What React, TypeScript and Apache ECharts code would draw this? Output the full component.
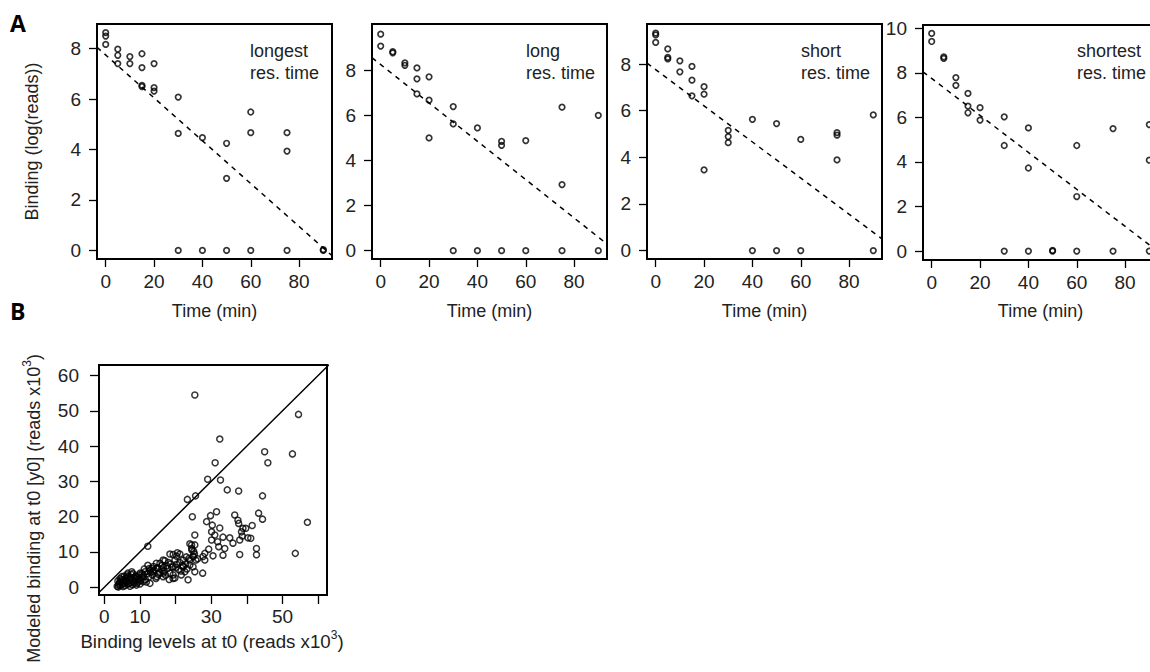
import React, { useEffect, useRef } from "react";
import * as echarts from "echarts";

// ---------- DATA ----------
const timeTicks = [0, 20, 40, 60, 80];
const panelNames = ["longest", "long", "short", "shortest"];

// [time (min), binding log(reads)]
const longestPts = [
  [0, 8.64], [0, 8.5], [0, 8.17], [5, 7.98], [5, 7.74], [5, 7.41], [10, 7.69], [10, 7.41],
  [15, 7.8], [15, 7.25], [15, 6.55], [15, 6.5], [20, 7.41], [20, 6.46], [20, 6.32],
  [30, 6.08], [30, 4.64], [30, 0], [40, 4.47], [40, 0], [50, 4.25], [50, 2.86], [50, 0],
  [60, 5.49], [60, 4.67], [60, 0], [75, 4.67], [75, 3.94], [75, 0], [90, 0], [90, 0.03],
];
const longPts = [
  [0, 9.6], [0, 9.07], [5, 8.82], [5, 8.77], [10, 8.33], [10, 8.22], [15, 8.1], [15, 7.62],
  [15, 6.95], [20, 7.71], [20, 6.67], [20, 5.0], [30, 6.39], [30, 5.62], [30, 0], [40, 5.44],
  [40, 0], [50, 4.85], [50, 4.67], [50, 0], [60, 4.88], [60, 0], [75, 6.36], [75, 2.93],
  [75, 0], [90, 6.0], [90, 0],
];
const shortPts = [
  [0, 9.33], [0, 9.25], [0, 8.93], [5, 8.65], [5, 8.29], [5, 8.22], [10, 8.14], [10, 7.67],
  [15, 7.9], [15, 7.31], [15, 6.64], [20, 7.03], [20, 6.71], [20, 3.46], [30, 5.16], [30, 4.89],
  [30, 4.63], [40, 5.63], [40, 0], [50, 5.45], [50, 0], [60, 4.77], [60, 0], [75, 5.06],
  [75, 4.95], [75, 3.89], [90, 5.82], [90, 0],
];
const shortestPts = [
  [0, 9.77], [0, 9.41], [5, 8.72], [5, 8.65], [10, 7.79], [10, 7.44], [15, 7.08], [15, 6.51],
  [15, 6.21], [20, 6.44], [20, 5.88], [30, 6.03], [30, 4.74], [30, 0], [40, 5.53], [40, 3.73],
  [40, 0], [50, 0], [50, 0.03], [60, 4.74], [60, 2.45], [60, 0], [75, 5.5], [75, 0],
  [90, 5.68], [90, 4.08], [90, 0],
];
const fitIntercepts = [7.75, 8.25, 7.76, 7.75];
const fitSlopes = [-0.085, -0.085, -0.0775, -0.083];
const yTicksA = [
  [0, 2, 4, 6, 8],
  [0, 2, 4, 6, 8],
  [0, 2, 4, 6, 8],
  [0, 2, 4, 6, 8, 10],
];

// Panel B: [binding at t0, modeled binding at t0] (reads x10^3)
const bXTicks = [0, 10, 20, 30, 40, 50, 60];
const bXLabels = [0, 10, 30, 50];
const bYTicks = [0, 10, 20, 30, 40, 50, 60];
const bindingPts = [
  [25.4, 54.5], [54.5, 49.0], [32.4, 42.0], [45.0, 38.4], [52.8, 37.8], [45.9, 35.3], [31.1, 35.3],
  [29.0, 30.6], [32.6, 30.4], [34.5, 27.6], [37.7, 27.3], [23.3, 24.9], [25.6, 25.9], [44.4, 25.9],
  [24.7, 20.0], [28.7, 18.6], [29.8, 20.3], [31.5, 21.4], [36.6, 20.5], [37.5, 19.0], [37.7, 18.1],
  [43.3, 21.0], [44.4, 19.3], [57.0, 18.4], [25.4, 14.8], [30.3, 17.6], [32.4, 16.8], [30.1, 15.7],
  [31.0, 14.8], [33.3, 14.2], [30.1, 13.4], [31.8, 12.9], [32.1, 11.5], [35.2, 14.0], [36.1, 12.5],
  [38.5, 15.7], [39.7, 16.7], [40.3, 14.0], [38.0, 13.4], [38.7, 14.5], [41.5, 17.5], [41.1, 13.9],
  [38.9, 16.7], [33.8, 11.0], [33.3, 9.1], [30.5, 8.9], [38.0, 9.3], [42.7, 11.0], [42.7, 9.2],
  [53.6, 9.6], [27.6, 4.0], [23.5, 2.1], [12.2, 11.6],
  [24.5, 12.0], [24.5, 11.0], [25.4, 12.0], [25.0, 8.7], [25.7, 7.7], [25.1, 10.1], [24.0, 7.7],
  [27.7, 8.7], [28.2, 7.7], [29.3, 10.8], [28.2, 9.6], [21.2, 9.4], [20.3, 8.8], [19.3, 9.3],
  [19.8, 7.7], [22.1, 7.7], [22.1, 5.8], [24.9, 5.8], [19.3, 5.8], [19.3, 3.5], [19.3, 2.5],
  [21.6, 3.5], [22.6, 4.4], [18.4, 9.4], [20.5, 9.8], [16.5, 7.7], [15.6, 6.8], [13.3, 5.4],
  [14.7, 5.4], [12.8, 4.7], [10.0, 4.0], [11.4, 4.4], [9.1, 3.0], [7.7, 4.4], [6.3, 3.5],
  [4.9, 3.0], [12.8, 1.1], [10.9, 1.6], [14.7, 3.0], [16.5, 3.0], [18.4, 4.0], [17.5, 6.1],
  [18.9, 5.7], [20.3, 6.5], [21.2, 7.0], [25.4, 4.4], [24.0, 6.3], [24.9, 8.7], [22.1, 5.9],
  [19.8, 2.6], [16.5, 4.0], [24.0, 12.3],
  [3.6, 0.3], [4.0, 0.6], [4.2, 1.0], [4.5, 0.4], [4.8, 1.5], [5.0, 0.8], [5.2, 2.0], [5.5, 1.2],
  [5.8, 0.5], [6.0, 2.5], [6.2, 1.6], [6.5, 0.9], [6.8, 3.0], [7.0, 2.2], [7.3, 1.3], [7.6, 3.6],
  [7.9, 0.7], [8.2, 2.6], [8.5, 1.8], [8.8, 3.2], [9.2, 1.1], [9.5, 2.3], [9.8, 3.5], [10.2, 1.9],
  [10.5, 2.8], [11.0, 3.3], [11.5, 2.2], [12.0, 3.8], [12.5, 2.9], [13.0, 4.2], [13.5, 3.5],
  [14.0, 4.8], [14.5, 2.5], [15.0, 5.5], [15.5, 4.1], [16.0, 5.0], [16.8, 4.6], [17.2, 3.4],
  [17.8, 5.3], [18.2, 2.2], [20.8, 5.0], [21.5, 4.6], [22.8, 6.6], [23.2, 5.2], [3.8, 1.8],
  [4.4, 2.5], [5.6, 3.2], [6.6, 4.0], [7.2, 0.3], [8.0, 3.9], [9.0, 0.6], [10.0, 0.9], [11.2, 5.2],
  [12.2, 6.2], [13.8, 5.9], [14.6, 6.8], [16.2, 6.2], [17.0, 7.5], [18.0, 7.0], [20.0, 5.6],
  [3.9, 0.1], [4.3, 1.4], [4.7, 2.1], [5.3, 0.2], [5.9, 1.9], [6.4, 2.9], [6.9, 1.0], [7.4, 2.7],
  [8.4, 1.2], [8.9, 2.4], [9.6, 1.6], [10.6, 3.9], [11.8, 1.5], [12.6, 5.3], [13.6, 4.5],
  [15.2, 3.6], [16.6, 5.6], [18.6, 6.6], [21.9, 6.2], [23.8, 8.2], [25.3, 9.4], [24.6, 10.5],
  [26.2, 8.1], [23.0, 8.6],
];

// ---------- LAYOUT ----------
const FONT = "'Liberation Sans', Arial, Helvetica, sans-serif";
const TXT = "#222";

const panelsA = [
  { left: 97, top: 24, yMin: -0.34, yMax: 8.98, labelX: 250, pts: longestPts },
  { left: 372, top: 24, yMin: -0.37, yMax: 10.05, labelX: 526, pts: longPts },
  { left: 647, top: 24, yMin: -0.36, yMax: 9.72, labelX: 801, pts: shortPts },
  { left: 923, top: 25, yMin: -0.4, yMax: 10.15, labelX: 1077, pts: shortestPts },
];
const A_W = 235;
const A_H = 235;
const X_MIN = -3.6;
const X_MAX = 93.6;
const B_GRID = { left: 99, top: 365, width: 228, height: 230 };
const B_X = [-1.5, 62.5];
const B_Y = [-2.2, 63.0];

function axisBase(gridIndex: number, min: number, max: number, ticks: number[], labels: number[], margin: number, tickLen: number, fontSize: number) {
  return {
    type: "value",
    gridIndex,
    min,
    max,
    axisLine: { show: false, onZero: false },
    splitLine: { show: false },
    axisTick: { show: true, inside: false, length: tickLen, customValues: ticks, lineStyle: { color: "#000", width: 1.3 } },
    axisLabel: { show: true, customValues: labels, margin, color: TXT, fontSize, fontFamily: FONT },
  };
}

export default function App() {
  const ref = useRef<HTMLDivElement>(null);
  useEffect(() => {
    if (!ref.current) return;
    const chart = echarts.init(ref.current, undefined, { renderer: "svg" });

    const grids: any[] = [];
    const xAxes: any[] = [];
    const yAxes: any[] = [];
    const series: any[] = [];
    const graphics: any[] = [];

    panelsA.forEach((p, i) => {
      grids.push({ left: p.left, top: p.top, width: A_W, height: A_H, show: true, borderColor: "#000", borderWidth: 2, backgroundColor: "transparent", containLabel: false });
      xAxes.push(axisBase(i, X_MIN, X_MAX, timeTicks, timeTicks, 13, 8, 19));
      yAxes.push(axisBase(i, p.yMin, p.yMax, yTicksA[i], yTicksA[i], 16, 8, 19));
      series.push({
        type: "scatter",
        xAxisIndex: i,
        yAxisIndex: i,
        data: p.pts,
        symbol: "circle",
        symbolSize: 5.5,
        itemStyle: { color: "rgba(0,0,0,0)", borderColor: "#000", borderWidth: 1.7 },
        silent: true,
      });
      const a = fitIntercepts[i];
      const b = fitSlopes[i];
      series.push({
        type: "line",
        xAxisIndex: i,
        yAxisIndex: i,
        data: [[X_MIN, a + b * X_MIN], [X_MAX, a + b * X_MAX]],
        symbol: "none",
        clip: true,
        lineStyle: { color: "#000", width: 1.5, type: [5, 5] },
        silent: true,
      });
      graphics.push({
        type: "text",
        x: p.left + A_W / 2,
        y: 311,
        style: { text: "Time (min)", fontSize: 18, fontFamily: FONT, fill: TXT, align: "center", verticalAlign: "middle" },
      });
      graphics.push({
        type: "text",
        x: p.labelX,
        y: 40,
        style: { text: panelNames[i] + "\nres. time", fontSize: 18, lineHeight: 22, fontFamily: FONT, fill: TXT, align: "left", verticalAlign: "top" },
      });
    });

    // Panel B
    grids.push({ ...B_GRID, show: true, borderColor: "#000", borderWidth: 2, backgroundColor: "transparent", containLabel: false });
    xAxes.push(axisBase(4, B_X[0], B_X[1], bXTicks, bXLabels, 12, 9, 19));
    yAxes.push(axisBase(4, B_Y[0], B_Y[1], bYTicks, bYTicks, 20, 9, 19));
    series.push({
      type: "line",
      xAxisIndex: 4,
      yAxisIndex: 4,
      data: [[-5, -5], [70, 70]],
      symbol: "none",
      clip: true,
      lineStyle: { color: "#000", width: 1.5 },
      silent: true,
    });
    series.push({
      type: "scatter",
      xAxisIndex: 4,
      yAxisIndex: 4,
      data: bindingPts,
      symbol: "circle",
      symbolSize: 6,
      itemStyle: { color: "rgba(0,0,0,0)", borderColor: "#000", borderWidth: 1.5 },
      silent: true,
    });

    const richX = {
      a: { fontSize: 18.7, fontFamily: FONT, fill: TXT, color: TXT, lineHeight: 22, verticalAlign: "bottom" },
      s: { fontSize: 12, fontFamily: FONT, fill: TXT, color: TXT, lineHeight: 22, verticalAlign: "top" },
    };
    const richY = {
      a: { fontSize: 18, fontFamily: FONT, fill: TXT, color: TXT, lineHeight: 22, verticalAlign: "bottom" },
      s: { fontSize: 12, fontFamily: FONT, fill: TXT, color: TXT, lineHeight: 22, verticalAlign: "top" },
    };

    graphics.push(
      { type: "text", x: 10, y: 11, style: { text: "A", fontSize: 23, fontWeight: "bold", fontFamily: "'Open Sans', Arial, sans-serif", fill: "#000" } },
      { type: "text", x: 10, y: 299, style: { text: "B", fontSize: 23, fontWeight: "bold", fontFamily: "'Open Sans', Arial, sans-serif", fill: "#000" } },
      {
        type: "text",
        x: 32,
        y: 141.5,
        rotation: Math.PI / 2,
        style: { text: "Binding (log(reads))", fontSize: 18, fontFamily: FONT, fill: TXT, align: "center", verticalAlign: "middle" },
      },
      {
        type: "text",
        x: 212,
        y: 640,
        style: {
          text: "{a|Binding levels at t0 (reads x10}{s|3}{a|)}",
          align: "center",
          verticalAlign: "middle",
          rich: richX,
        },
      },
      {
        type: "text",
        x: 32,
        y: 354,
        rotation: Math.PI / 2,
        style: {
          text: "{a|Modeled binding at t0 [y0] (reads x10}{s|3}{a|)}",
          align: "right",
          verticalAlign: "middle",
          rich: richY,
        },
      }
    );

    chart.setOption({
      animation: false,
      backgroundColor: "#fff",
      grid: grids,
      xAxis: xAxes,
      yAxis: yAxes,
      series,
      graphic: graphics,
    });
    return () => chart.dispose();
  }, []);

  return (
    <div style={{ position: "absolute", left: 0, top: 0, width: 1150, height: 672, overflow: "hidden", background: "#fff" }}>
      <div ref={ref} style={{ width: 1200, height: 672 }} />
    </div>
  );
}
